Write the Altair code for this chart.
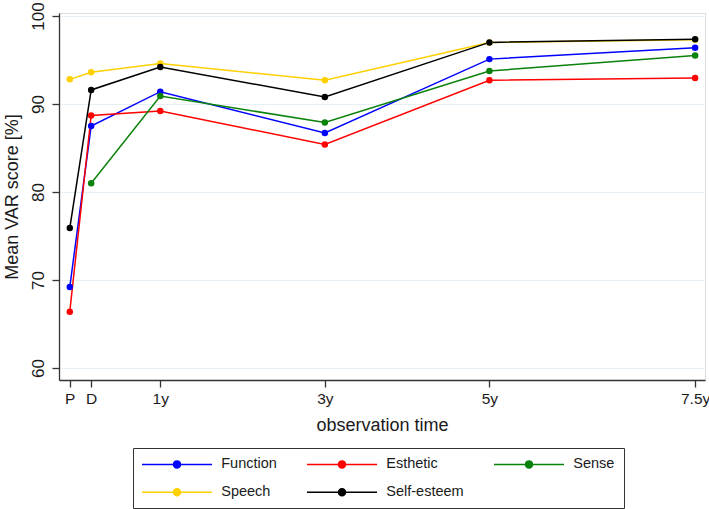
import altair as alt
import pandas as pd

# ---- data ----
time_labels = ["P", "D", "1y", "3y", "5y", "7.5y"]
time_pos = [-0.1, 0.16, 1, 3, 5, 7.5]
series_names = ["Function", "Esthetic", "Sense", "Speech", "Self-esteem"]
function_vals = [69.2, 87.5, 91.4, 86.7, 95.1, 96.4]
esthetic_vals = [66.4, 88.7, 89.2, 85.4, 92.7, 92.95]
sense_vals = [None, 81.0, 90.9, 87.9, 93.75, 95.5]
speech_vals = [92.8, 93.6, 94.6, 92.7, 97.0, 97.3]
selfesteem_vals = [75.9, 91.6, 94.2, 90.8, 97.0, 97.35]
series_colors = ["#0000ff", "#ff0000", "#0a820a", "#ffd000", "#000000"]

all_vals = [function_vals, esthetic_vals, sense_vals, speech_vals, selfesteem_vals]
rows = []
for name, vals in zip(series_names, all_vals):
    for t, lab, v in zip(time_pos, time_labels, vals):
        if v is not None:
            rows.append({"series": name, "t": t, "time": lab, "score": v})
df = pd.DataFrame(rows)

label_expr = " : ".join(
    f"datum.value == {p} ? '{l}'" for p, l in zip(time_pos[:-1], time_labels[:-1])
) + f" : '{time_labels[-1]}'"

FONT = "Liberation Sans"
TXT = "#1a1a1a"

x_enc = alt.X(
    "t:Q",
    scale=alt.Scale(domain=[-0.231, 7.62], nice=False, zero=False),
    axis=alt.Axis(
        values=time_pos, labelExpr=label_expr, title="observation time",
        grid=False, tickSize=7, labelPadding=4, titlePadding=10,
        labelFontSize=15.5, titleFontSize=18, labelFont=FONT, titleFont=FONT,
        labelColor=TXT, titleColor=TXT, titleFontWeight="normal",
        domainColor="#333333", tickColor="#333333", domainWidth=1.3, tickWidth=1.3,
        labelFlush=False, labelOverlap=False,
    ),
)
y_enc = alt.Y(
    "score:Q",
    scale=alt.Scale(domain=[58.64, 100.34], nice=False, zero=False),
    axis=alt.Axis(
        values=[60, 70, 80, 90, 100], title="Mean VAR score [%]",
        grid=True, gridColor="#e6eff3", gridWidth=1.2,
        tickSize=7, labelAngle=270, labelAlign="center", labelBaseline="bottom",
        labelPadding=5, titlePadding=8,
        labelFontSize=17, titleFontSize=18, labelFont=FONT, titleFont=FONT,
        labelColor=TXT, titleColor=TXT, titleFontWeight="normal",
        domainColor="#333333", tickColor="#333333", domainWidth=1.3, tickWidth=1.3,
        labelFlush=False,
    ),
)
color_enc = alt.Color(
    "series:N",
    scale=alt.Scale(domain=series_names, range=series_colors),
    sort=series_names,
    legend=alt.Legend(
        title=None, orient="none", legendX=74, legendY=435, direction="horizontal",
        columns=3, columnPadding=27, rowPadding=13,
        symbolType="M-7,0H7M-0.7,0A0.7,0.7,0,1,1,0.7,0A0.7,0.7,0,1,1,-0.7,0Z",
        symbolSize=100, symbolStrokeWidth=1.5, symbolOffset=27.75,
        labelOffset=37, labelFontSize=14.5, labelFont=FONT, labelColor=TXT,
        padding=9, strokeColor="#333333", fillColor="white", cornerRadius=0,
    ),
)

lines = alt.Chart(df).mark_line(strokeWidth=1.5).encode(
    x=x_enc, y=y_enc, color=color_enc, detail="series:N", order="t:Q"
)
points = alt.Chart(df).mark_point(filled=True, size=42, opacity=1).encode(
    x=x_enc, y=y_enc, color=color_enc
)

chart = alt.layer(lines, points).properties(
    width=646, height=367,
    padding={"left": 59, "top": 13, "right": 4, "bottom": 129},
    autosize=alt.AutoSizeParams(type="none"),
).configure_view(stroke=None).configure(background="white")

chart.save("out.html", embed_options={"renderer": "svg", "actions": False})
